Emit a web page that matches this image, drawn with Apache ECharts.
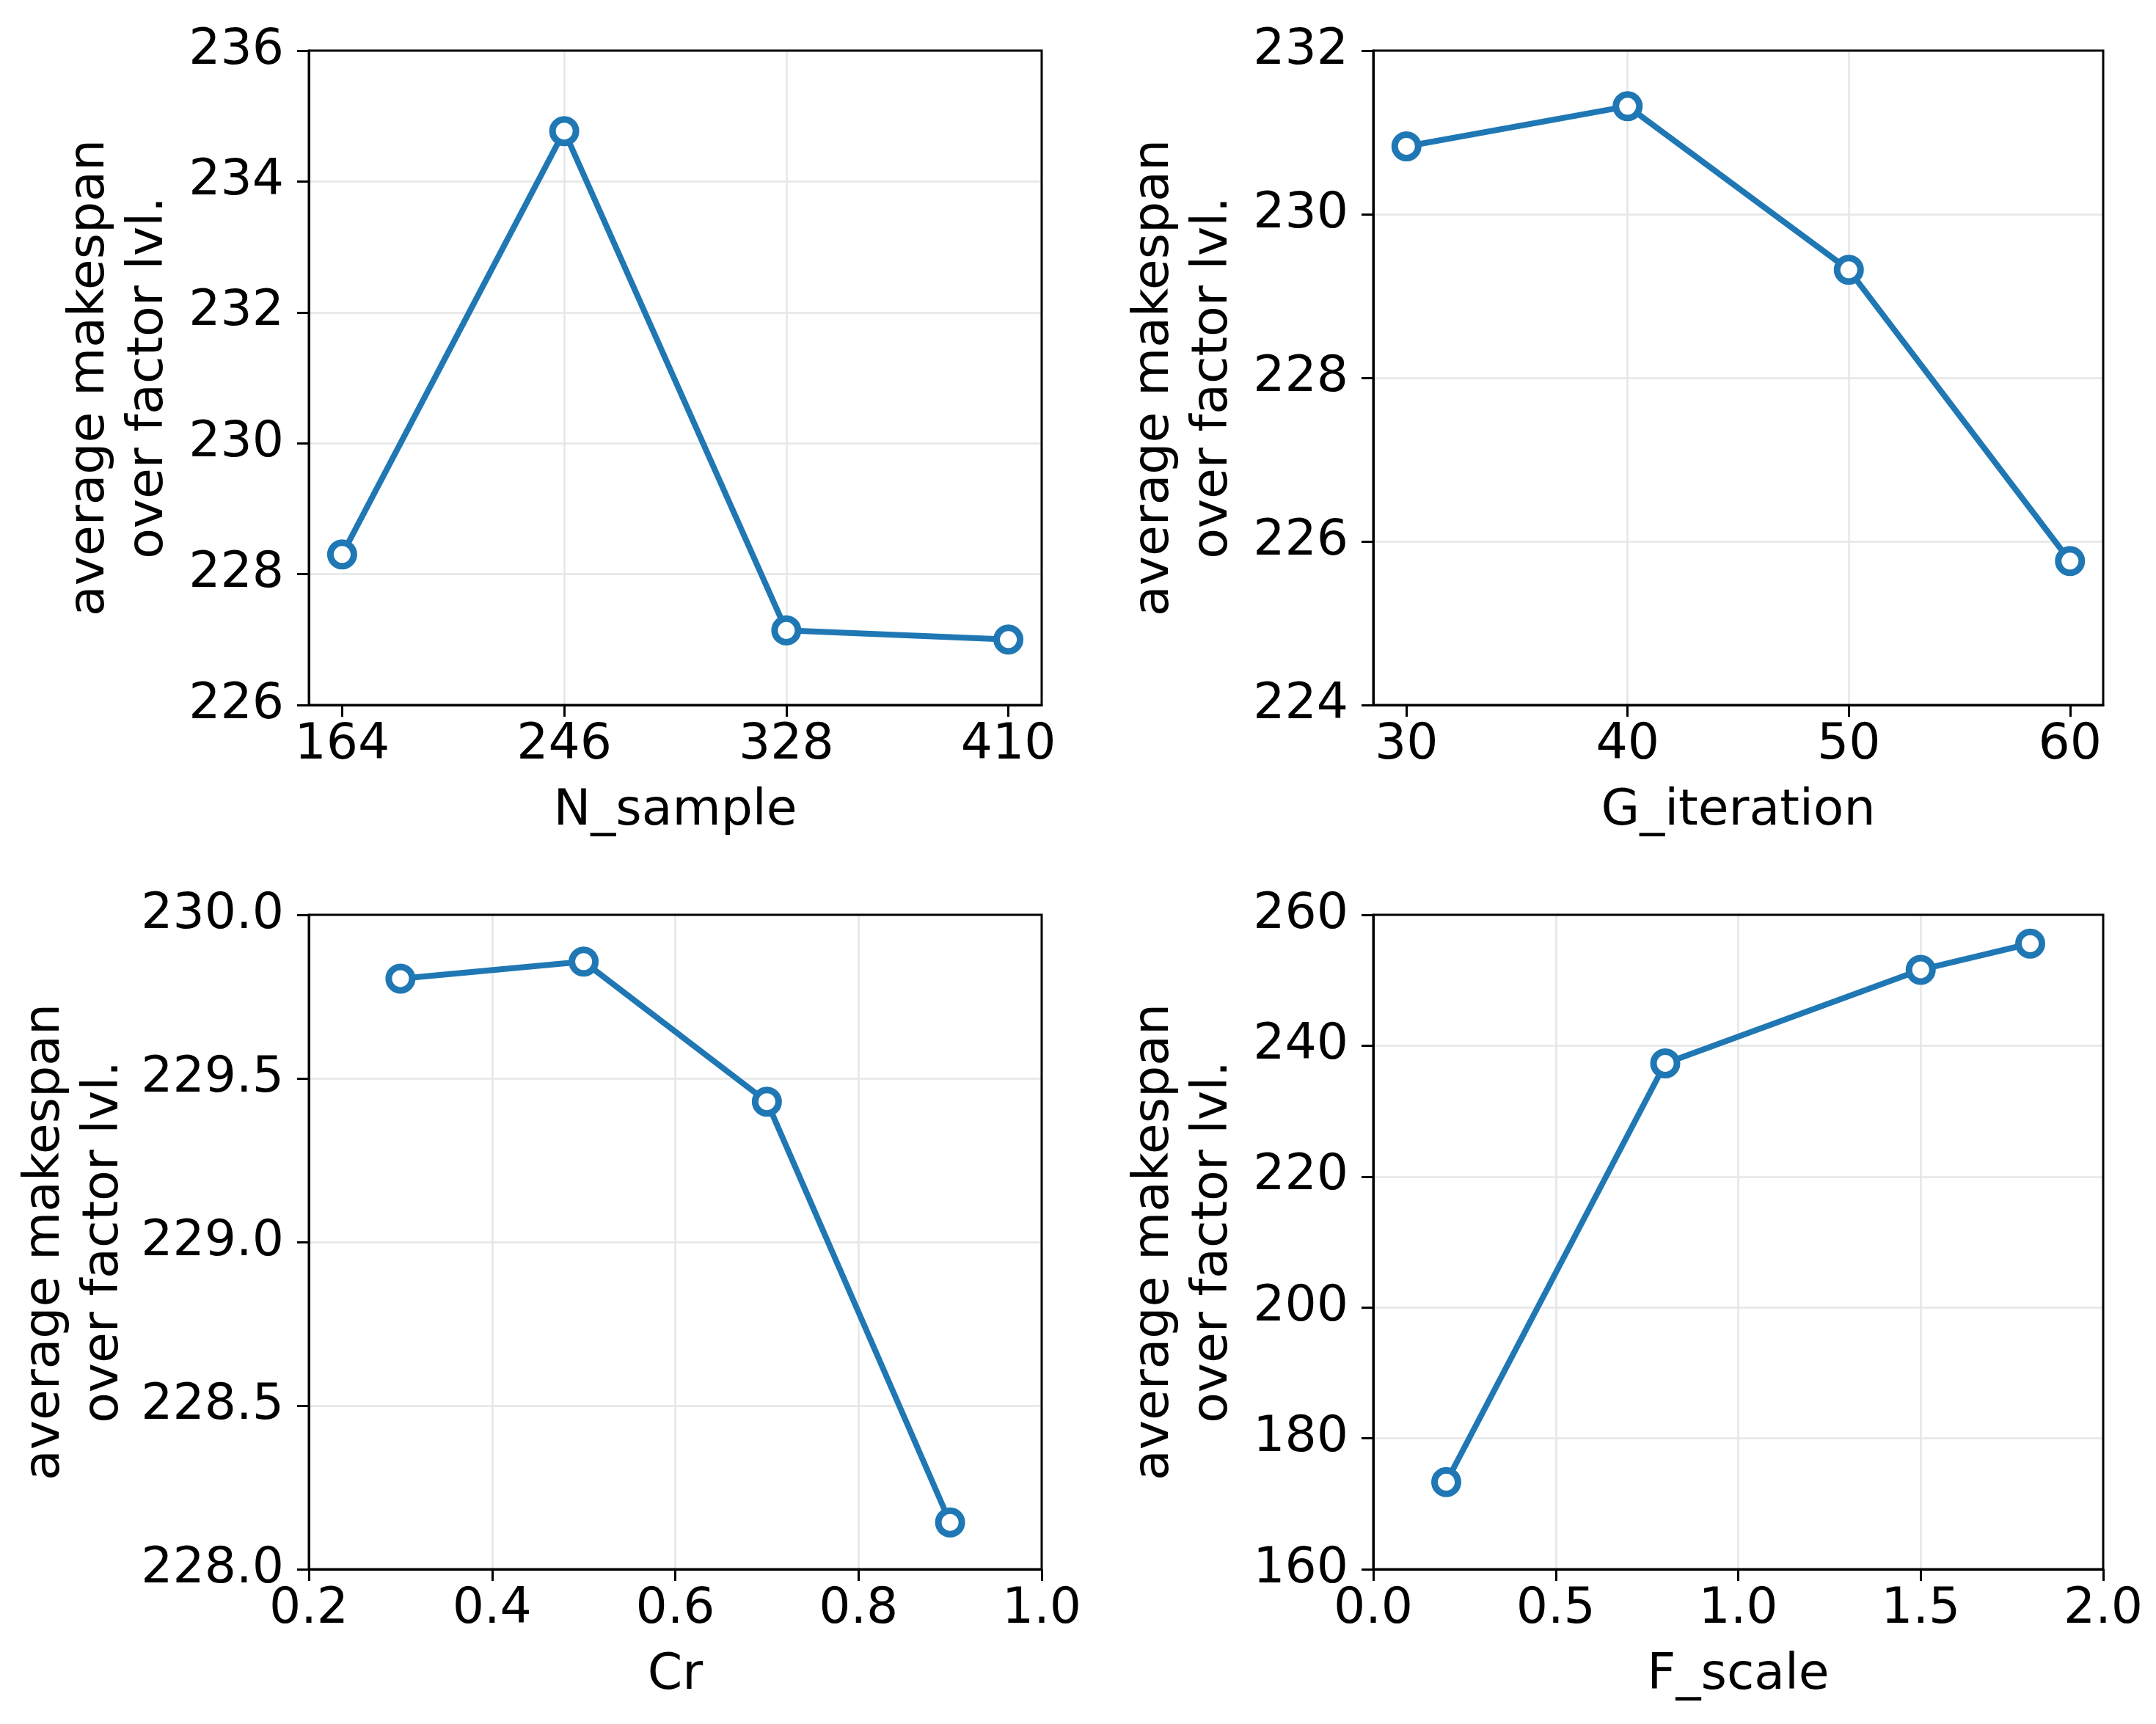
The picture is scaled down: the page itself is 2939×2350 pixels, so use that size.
<!DOCTYPE html>
<html>
<head>
<meta charset="utf-8">
<script src="https://cdn.jsdelivr.net/npm/echarts@6/dist/echarts.min.js"></script>
<style>
html, body { margin: 0; padding: 0; background: #fff; }
#chart { width: 2939px; height: 2350px; }
</style>
</head>
<body>
<div id="chart"></div>
<script>
// ---- data ----
const nSample = [164, 246, 328, 410];
const nSampleVals = [228.30, 234.77, 227.14, 227.00];
const gIteration = [30, 40, 50, 60];
const gIterationVals = [230.83, 231.32, 229.32, 225.76];
const cr = [0.3, 0.5, 0.7, 0.9];
const crVals = [229.805, 229.857, 229.429, 228.143];
const fScale = [0.2, 0.8, 1.5, 1.8];
const fScaleVals = [173.3, 237.3, 251.6, 255.6];

const xNames = ['N_sample', 'G_iteration', 'Cr', 'F_scale'];
const yName = 'average makespan\nover factor lvl.';
const nSampleTicks = [164, 246, 328, 410];
const gIterationTicks = [30, 40, 50, 60];

// ---- styling ----
const FONT = 'DejaVu Sans';
const FS = 68;
const BLUE = '#1f77b4';
const GRID_C = '#e6e6e6';

const grids = [
  { left: 421, top: 69, width: 999, height: 892 },
  { left: 1872, top: 69, width: 995, height: 892 },
  { left: 421, top: 1247, width: 999, height: 892 },
  { left: 1872, top: 1247, width: 995, height: 892 }
].map(g => Object.assign(g, {
  show: true, borderColor: '#000', borderWidth: 3, backgroundColor: 'transparent',
  containLabel: false, outerBoundsMode: 'none', z: 10
}));

function xAxis(idx, name, opts) {
  const base = {
    type: 'value', gridIndex: idx, name: name,
    nameLocation: 'middle', nameGap: 111,
    nameTextStyle: { fontFamily: FONT, fontSize: FS, color: '#000', lineHeight: 68 },
    axisLine: { show: true, onZero: false, lineStyle: { color: '#000', width: 3 } },
    axisTick: { show: true, inside: false, length: 16, lineStyle: { color: '#000', width: 3 } },
    axisLabel: { show: true, margin: 21, fontFamily: FONT, fontSize: FS, color: '#000', lineHeight: 68, hideOverlap: false, showMinLabel: true, showMaxLabel: true },
    splitLine: { show: true, showMinLine: false, showMaxLine: false, lineStyle: { color: GRID_C, width: 2.5 } }
  };
  const r = Object.assign(base, opts);
  if (opts.ticks) {
    r.axisTick = Object.assign({}, base.axisTick, { customValues: opts.ticks });
    r.axisLabel = Object.assign({}, base.axisLabel, { customValues: opts.ticks });
    delete r.ticks;
  }
  if (opts.fmt) {
    r.axisLabel = Object.assign({}, r.axisLabel, { formatter: opts.fmt });
    delete r.fmt;
  }
  return r;
}

function yAxis(idx, opts, gap) {
  const r = {
    type: 'value', gridIndex: idx, name: yName,
    nameLocation: 'middle', nameRotate: 90, nameGap: gap,
    nameTextStyle: { fontFamily: FONT, fontSize: FS, color: '#000', lineHeight: 80, align: 'center' },
    axisLine: { show: true, onZero: false, lineStyle: { color: '#000', width: 3 } },
    axisTick: { show: true, inside: false, length: 16, lineStyle: { color: '#000', width: 3 } },
    axisLabel: { show: true, margin: 34, fontFamily: FONT, fontSize: FS, color: '#000', showMinLabel: true, showMaxLabel: true, hideOverlap: false },
    splitLine: { show: true, showMinLine: false, showMaxLine: false, lineStyle: { color: GRID_C, width: 2.5 } }
  };
  Object.assign(r, opts);
  if (opts.fmt) {
    r.axisLabel = Object.assign({}, r.axisLabel, { formatter: opts.fmt });
    delete r.fmt;
  }
  return r;
}

const f1 = v => Number(v).toFixed(1);

function series(idx, xs, ys) {
  return {
    type: 'line', xAxisIndex: idx, yAxisIndex: idx,
    data: xs.map((x, i) => [x, ys[i]]),
    symbol: 'circle', symbolSize: 32, showSymbol: true,
    lineStyle: { color: BLUE, width: 8 },
    itemStyle: { color: '#fff', borderColor: BLUE, borderWidth: 9 },
    emphasis: { disabled: true },
    z: 5
  };
}

const option = {
  backgroundColor: '#fff',
  animation: false,
  grid: grids,
  xAxis: [
    xAxis(0, xNames[0], { min: 151.7, max: 422.3, ticks: nSampleTicks }),
    xAxis(1, xNames[1], { min: 28.5, max: 61.5, ticks: gIterationTicks }),
    xAxis(2, xNames[2], { min: 0.2, max: 1.0, interval: 0.2, fmt: f1 }),
    xAxis(3, xNames[3], { min: 0, max: 2.0, interval: 0.5, fmt: f1 })
  ],
  yAxis: [
    yAxis(0, { min: 226, max: 236, interval: 2 }, 178),
    yAxis(1, { min: 224, max: 232, interval: 2 }, 178),
    yAxis(2, { min: 228, max: 230, interval: 0.5, fmt: f1 }, 239),
    yAxis(3, { min: 160, max: 260, interval: 20 }, 178)
  ],
  series: [
    series(0, nSample, nSampleVals),
    series(1, gIteration, gIterationVals),
    series(2, cr, crVals),
    series(3, fScale, fScaleVals)
  ]
};

const chart = echarts.init(document.getElementById('chart'), null, { renderer: 'canvas' });
chart.setOption(option);
</script>
</body>
</html>
